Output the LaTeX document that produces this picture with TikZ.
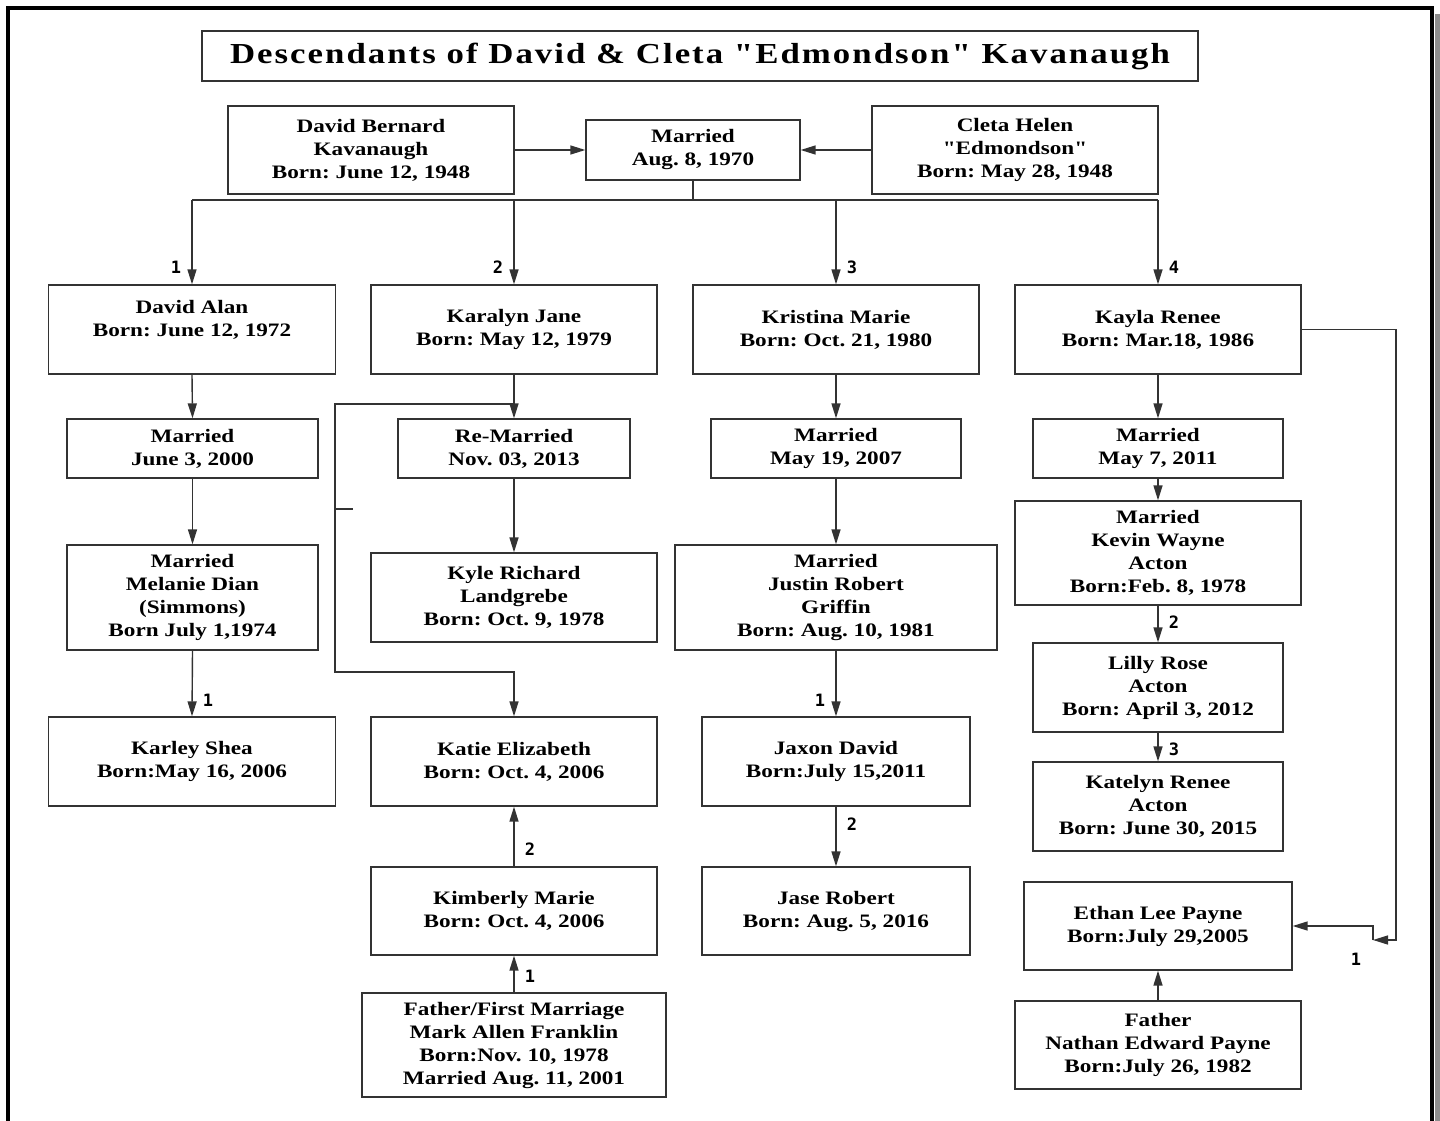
\documentclass[tikz,border=0pt]{standalone}
\usepackage{fontspec}
\newfontfamily\boxfont[FakeStretch=1.22]{Liberation Serif}
\newfontfamily\titlefont[LetterSpace=7,FakeStretch=1.2]{Liberation Serif}
\newfontfamily\numfont{DejaVu Sans Mono}
\usetikzlibrary{arrows.meta}
\newcommand{\dq}{\symbol{34}}
\tikzset{
  box/.style={draw=black!80, line width=1.3pt, fill=white, align=center,
    font=\frenchspacing\boxfont\bfseries\fontsize{19}{23}\selectfont, inner sep=0pt},
  bx/.style n args={2}{box, minimum width=#1, minimum height=#2},
  ln/.style={draw=black!80, line width=1.4pt},
  arr/.style={ln, -{Triangle[length=15pt,width=9pt]}},
  num/.style={font=\numfont\bfseries\fontsize{17}{17}\selectfont, inner sep=0pt}
}
\begin{document}
\begin{tikzpicture}[x=1pt,y=-1pt]
\useasboundingbox (0,0) rectangle (1440,1121);
\fill[white] (0,0) rectangle (1440,1121);
% frame
\fill[black!45] (1435,14) rectangle (1441,1121);
\draw[line width=4pt] (8,1121) -- (8,8) -- (1432,8) -- (1432,1121);
% title
\node[bx={996pt}{50pt}, font=\frenchspacing\titlefont\bfseries\fontsize{29}{30}\selectfont] (title) at (700,56)
  {Descendants of David \& Cleta \dq Edmondson\dq{} Kavanaugh};
% parents
\node[bx={286pt}{88pt}] (db) at (371,150) {David Bernard\\Kavanaugh\\Born: June 12, 1948};
\node[bx={214pt}{60pt}] (mt) at (693,150) {Married\\Aug. 8, 1970};
\node[bx={286pt}{88pt}] (cl) at (1015,150) {Cleta Helen\\\dq Edmondson\dq\\Born: May 28, 1948};
% children
\node[bx={287pt}{89pt}] (da) at (192,329.5) {David Alan\\Born: June 12, 1972\\\mbox{}};
\node[bx={286pt}{89pt}] (kj) at (514,329.5) {Karalyn Jane\\Born: May 12, 1979};
\node[bx={286pt}{89pt}] (km) at (836,329.5) {Kristina Marie\\Born: Oct. 21, 1980};
\node[bx={286pt}{89pt}] (kr) at (1158,329.5) {Kayla Renee\\Born: Mar.18, 1986};
% marriages
\node[bx={251pt}{59pt}] (m1) at (192.5,448.5) {Married\\June 3, 2000};
\node[bx={232pt}{59pt}] (rm) at (514,448.5) {Re-Married\\Nov. 03, 2013};
\node[bx={250pt}{59pt}] (m3) at (836,448.5) {Married\\May 19, 2007};
\node[bx={250pt}{59pt}] (m4) at (1158,448.5) {Married\\May 7, 2011};
% spouses
\node[bx={251pt}{105pt}] (mel) at (192.5,597.5) {Married\\Melanie Dian\\(Simmons)\\Born July 1,1974};
\node[bx={286pt}{89pt}] (kyle) at (514,597.5) {Kyle Richard\\Landgrebe\\Born: Oct. 9, 1978};
\node[bx={322pt}{105pt}] (jus) at (836,597.5) {Married\\Justin Robert\\Griffin\\Born: Aug. 10, 1981};
\node[bx={286pt}{104pt}] (kev) at (1158,553) {Married\\Kevin Wayne\\Acton\\Born:Feb. 8, 1978};
% grandchildren
\node[bx={287pt}{89pt}] (karley) at (192,761.5) {Karley Shea\\Born:May 16, 2006};
\node[bx={286pt}{89pt}] (katie) at (514,761.5) {Katie Elizabeth\\Born: Oct. 4, 2006};
\node[bx={268pt}{89pt}] (jax) at (836,761.5) {Jaxon David\\Born:July 15,2011};
\node[bx={250pt}{89pt}] (lil) at (1158,687.5) {Lilly Rose\\Acton\\Born: April 3, 2012};
\node[bx={250pt}{89pt}] (kat) at (1158,806.5) {Katelyn Renee\\Acton\\Born: June 30, 2015};
\node[bx={286pt}{88pt}] (kim) at (514,911) {Kimberly Marie\\Born: Oct. 4, 2006};
\node[bx={268pt}{88pt}] (jase) at (836,911) {Jase Robert\\Born: Aug. 5, 2016};
\node[bx={268pt}{88pt}] (ethan) at (1158,926) {Ethan Lee Payne\\Born:July 29,2005};
\node[bx={304pt}{104pt}] (fm) at (514,1045) {Father/First Marriage\\Mark Allen Franklin\\Born:Nov. 10, 1978\\Married Aug. 11, 2001};
\node[bx={286pt}{88pt}] (np) at (1158,1045) {Father\\Nathan Edward Payne\\Born:July 26, 1982};
% parent connectors
\draw[arr] (db.east) -- (mt.west);
\draw[arr] (cl.west) -- (mt.east);
\coordinate (bus) at (693,200);
\coordinate (b1) at (192,200);
\coordinate (b2) at (514,200);
\coordinate (b3) at (836,200);
\coordinate (b4) at (1158,200);
\draw[ln] (mt.south) -- (bus);
\draw[ln] (b1) -- (b4);
\draw[arr] (b1) -- (da.north);
\draw[arr] (b2) -- (kj.north);
\draw[arr] (b3) -- (km.north);
\draw[arr] (b4) -- (kr.north);
\node[num] (n1) at (176,267) {1};
\node[num] (n2) at (498,267) {2};
\node[num] (n3) at (852,267) {3};
\node[num] (n4) at (1174,267) {4};
% column 1
\draw[arr] (da.south) -- (m1.north);
\draw[arr] (m1.south) -- (mel.north);
\draw[arr] (mel.south) -- (karley.north);
\node[num] (n5) at (208,700) {1};
% column 2
\draw[arr] (kj.south) -- (rm.north);
\draw[arr] (rm.south) -- (kyle.north);
\coordinate (kb) at (514,404);
\coordinate (kc) at (335,672);
\draw[arr] (kb) -| (kc) -| (katie.north);
\coordinate (t1) at (335,509);
\coordinate (t2) at (353,509);
\draw[ln] (t1) -- (t2);
\draw[arr] (kim.north) -- (katie.south);
\node[num] (n6) at (530,849) {2};
\draw[arr] (fm.north) -- (kim.south);
\node[num] (n7) at (530,976) {1};
% column 3
\draw[arr] (km.south) -- (m3.north);
\draw[arr] (m3.south) -- (jus.north);
\draw[arr] (jus.south) -- (jax.north);
\node[num] (n8) at (820,700) {1};
\draw[arr] (jax.south) -- (jase.north);
\node[num] (n9) at (852,824) {2};
% column 4
\draw[arr] (kr.south) -- (m4.north);
\draw[arr] (m4.south) -- (kev.north);
\draw[arr] (kev.south) -- (lil.north);
\node[num] (n10) at (1174,622) {2};
\draw[arr] (lil.south) -- (kat.north);
\node[num] (n11) at (1174,749) {3};
\draw[arr] (np.north) -- (ethan.south);
\coordinate (r1) at (1396,940);
\coordinate (r2) at (1373,940);
\draw[arr] (kr.east) -| (r1) -- (r2);
\draw[arr] (r2) |- (ethan.east);
\node[num] (n12) at (1356,959) {1};
\end{tikzpicture}
\end{document}
